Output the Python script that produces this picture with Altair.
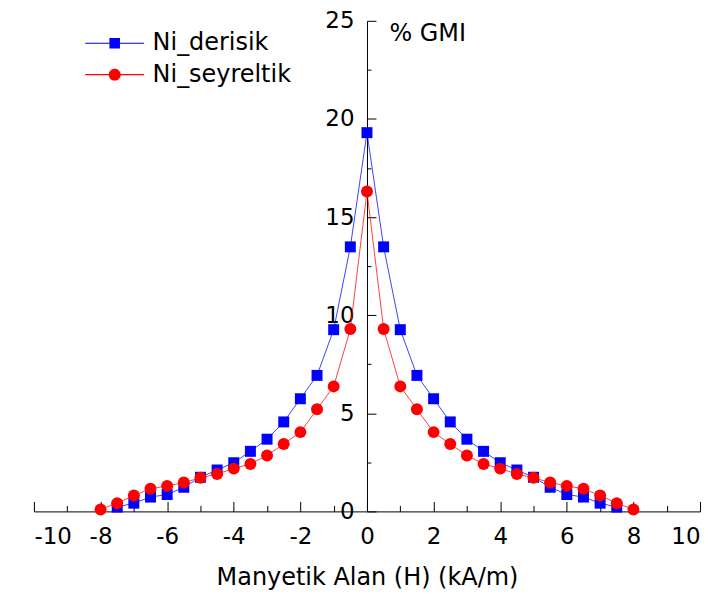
import altair as alt
import pandas as pd

# ---- data ----
H_vals = [-8, -7.5, -7, -6.5, -6, -5.5, -5, -4.5, -4, -3.5, -3, -2.5, -2, -1.5, -1, -0.5,
          0, 0.5, 1, 1.5, 2, 2.5, 3, 3.5, 4, 4.5, 5, 5.5, 6, 6.5, 7, 7.5, 8]
ni_derisik = [None, 0.22, 0.42, 0.73, 0.86, 1.23, 1.74, 2.11, 2.48, 3.06, 3.68, 4.56, 5.74, 6.93, 9.26, 13.48,
              19.3, 13.48, 9.26, 6.93, 5.74, 4.56, 3.68, 3.06, 2.48, 2.11, 1.74, 1.23, 0.86, 0.73, 0.42, 0.22, None]
ni_seyreltik = [0.1, 0.42, 0.81, 1.15, 1.30, 1.47, 1.71, 1.91, 2.18, 2.42, 2.85, 3.43, 4.04, 5.2, 6.37, 9.29,
                16.3, 9.29, 6.37, 5.2, 4.04, 3.43, 2.85, 2.42, 2.18, 1.91, 1.71, 1.47, 1.30, 1.15, 0.81, 0.42, 0.1]
series_names = ["Ni_derisik", "Ni_seyreltik"]
series_colors = ["#0000ff", "#ff0000"]
x_major = [-10, -8, -6, -4, -2, 0, 2, 4, 6, 8, 10]
x_minor = [-9, -7, -5, -3, -1, 1, 3, 5, 7, 9]
y_major = [0, 5, 10, 15, 20, 25]
y_minor = [2.5, 7.5, 12.5, 17.5, 22.5]

rows = []
for name, vals in zip(series_names, [ni_derisik, ni_seyreltik]):
    for h, g in zip(H_vals, vals):
        if g is not None:
            rows.append({"H": h, "GMI": g, "series": name})
df = pd.DataFrame(rows)

W, Hh = 668, 492
FONT = "DejaVu Sans"

xs = alt.Scale(domain=[-10, 10], nice=False, zero=False)
ys = alt.Scale(domain=[0, 25], nice=False)
col_scale = alt.Scale(domain=series_names, range=series_colors)

# legend symbols: thin horizontal bar + marker (filled paths, [-1,1] = sqrt(symbolSize))
sq_path = "M-2.46,-0.045H2.46V0.045H-2.46Z M-0.44,-0.44H0.44V0.44H-0.44Z"
ci_path = ("M-2.46,-0.045H2.46V0.045H-2.46Z M0.5,0A0.5,0.5 0 1,1 -0.5,0"
           "A0.5,0.5 0 1,1 0.5,0Z")

base = alt.Chart(df)
blue = base.transform_filter(alt.datum.series == series_names[0])
red = base.transform_filter(alt.datum.series == series_names[1])

no_x = alt.X("H:Q", scale=xs, axis=None)
no_y = alt.Y("GMI:Q", scale=ys, axis=None)

line_blue = blue.mark_line(strokeWidth=1, color=series_colors[0], opacity=0.75).encode(
    x=alt.X("H:Q", scale=xs, axis=alt.Axis(
        orient="bottom", values=x_major, ticks=False, tickSize=0, labelPadding=14,
        labelExpr="'' + datum.value",
        domain=True, grid=False, title="Manyetik Alan (H) (kA/m)", titlePadding=17,
        titleFontSize=24, labelFontSize=23)),
    y=alt.Y("GMI:Q", scale=ys, axis=alt.Axis(
        orient="left", offset=-W / 2, values=y_major, ticks=False, tickSize=0,
        labelPadding=13, domain=True, grid=False, title="% GMI", titleAngle=0,
        titleAlign="left", titleBaseline="middle", titleX=22, titleY=13,
        titleFontSize=24, labelFontSize=23)),
)
line_red = red.mark_line(strokeWidth=1, color=series_colors[1], opacity=0.75).encode(x=no_x, y=no_y)

pts_blue = blue.mark_point(filled=True, opacity=1, shape="square", size=121,
                           color=series_colors[0]).encode(
    x=alt.X("H:Q", scale=xs, axis=alt.Axis(
        orient="top", offset=-Hh, values=x_major, labels=False, domain=False,
        grid=False, tickSize=10, title=None)),
    y=alt.Y("GMI:Q", scale=ys, axis=alt.Axis(
        orient="right", offset=-W / 2, values=y_major, labels=False, domain=False,
        grid=False, tickSize=9, title=None)),
)
pts_red = red.mark_point(filled=True, opacity=1, shape="circle", size=144,
                         color=series_colors[1]).encode(x=no_x, y=no_y)

leg = alt.Legend(orient="none", legendX=69, legendY=10.5, title=None, padding=0,
                 labelFont=FONT, labelFontSize=24, labelColor="black",
                 symbolSize=576, symbolStrokeWidth=0, labelOffset=26, rowPadding=7.5)

legend_layer = base.mark_point(filled=True, size=0, opacity=1).encode(
    x=alt.X("H:Q", scale=xs, axis=alt.Axis(
        orient="top", offset=-Hh, values=x_minor, labels=False, domain=False,
        grid=False, tickSize=6, title=None)),
    y=alt.Y("GMI:Q", scale=ys, axis=alt.Axis(
        orient="right", offset=-W / 2, values=y_minor, labels=False, domain=False,
        grid=False, tickSize=4, title=None)),
    color=alt.Color("series:N", scale=col_scale, legend=leg),
    shape=alt.Shape("series:N", scale=alt.Scale(domain=series_names, range=[sq_path, ci_path]), legend=leg),
)

chart = alt.layer(line_blue, line_red, pts_blue, pts_red, legend_layer).resolve_scale(
    x="independent", y="independent"
).properties(
    width=W, height=Hh,
    autosize=alt.AutoSizeParams(type="none"),
    padding={"left": 26, "top": 12, "right": 15, "bottom": 80},
).configure_view(stroke=None).configure_axis(
    labelFont=FONT, titleFont=FONT, labelColor="black", titleColor="black",
    titleFontWeight="normal", domainColor="black", tickColor="black",
    domainWidth=1, tickWidth=1,
)

chart.save("out.html", embed_options={"renderer": "svg", "actions": False})
